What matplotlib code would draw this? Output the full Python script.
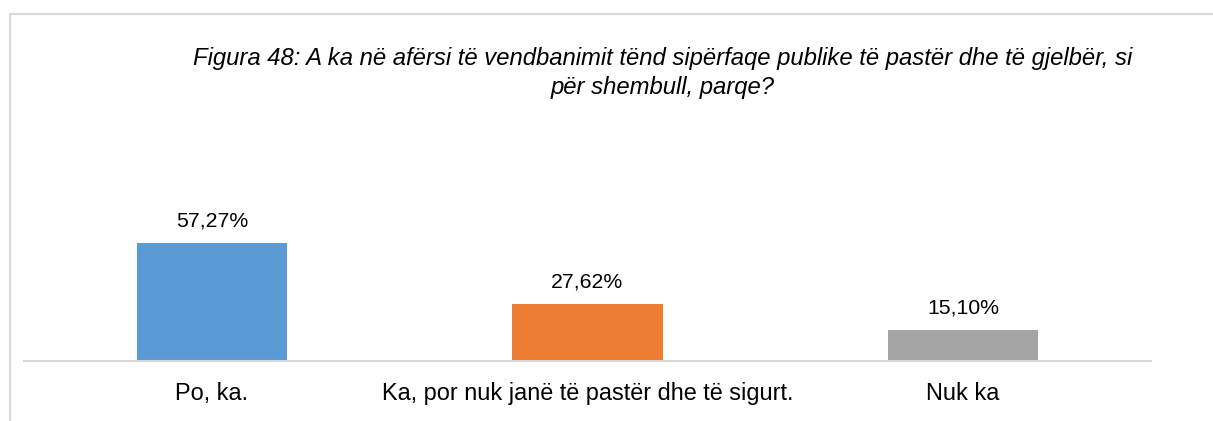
import matplotlib.pyplot as plt
from matplotlib.patches import Rectangle

categories = ['Po, ka.', 'Ka, por nuk janë të pastër dhe të sigurt.', 'Nuk ka']
values = [57.27, 27.62, 15.10]
labels = ['57,27%', '27,62%', '15,10%']
colors = ['#5B9BD5', '#ED7D31', '#A5A5A5']
title = ('Figura 48: A ka në afërsi të vendbanimit tënd sipërfaqe publike të pastër dhe të gjelbër, si\n'
         'për shembull, parqe?')

plt.rcParams['font.family'] = ['Liberation Sans', 'DejaVu Sans']

W, H = 1213, 421
fig = plt.figure(figsize=(W / 100, H / 100), dpi=100)

# outer frame (clipped on the right and bottom, like the screenshot)
fig.patches.append(Rectangle((10 / W, -0.1), 1.2, (H - 14) / H + 0.1,
                             transform=fig.transFigure, fill=False,
                             edgecolor='#D9D9D9', linewidth=1.5))

ax = fig.add_axes([24 / W, (H - 361) / H, (1151 - 24) / W, 211 / H])
x = range(len(categories))
ax.bar(x, values, width=0.4, color=colors)
ax.set_xlim(-0.5, 2.5)
ax.set_ylim(0, 211 / 2.06)

for xi, v, lab in zip(x, values, labels):
    ax.annotate(lab, (xi, v), xytext=(0, 9), textcoords='offset points',
                ha='center', va='bottom', fontsize=15.3, color='#000000')

ax.set_xticks(list(x))
ax.set_xticklabels(categories, fontsize=16.9)
ax.tick_params(axis='x', length=0, pad=15)
ax.set_yticks([])
for s in ['top', 'right', 'left']:
    ax.spines[s].set_visible(False)
ax.spines['bottom'].set_color('#D9D9D9')
ax.spines['bottom'].set_linewidth(1.5)

fig.text(663 / W, 1 - 73 / H, title, ha='center', va='center',
         fontsize=17.2, style='italic', linespacing=1.38)

fig.savefig('out.png', dpi=100)
